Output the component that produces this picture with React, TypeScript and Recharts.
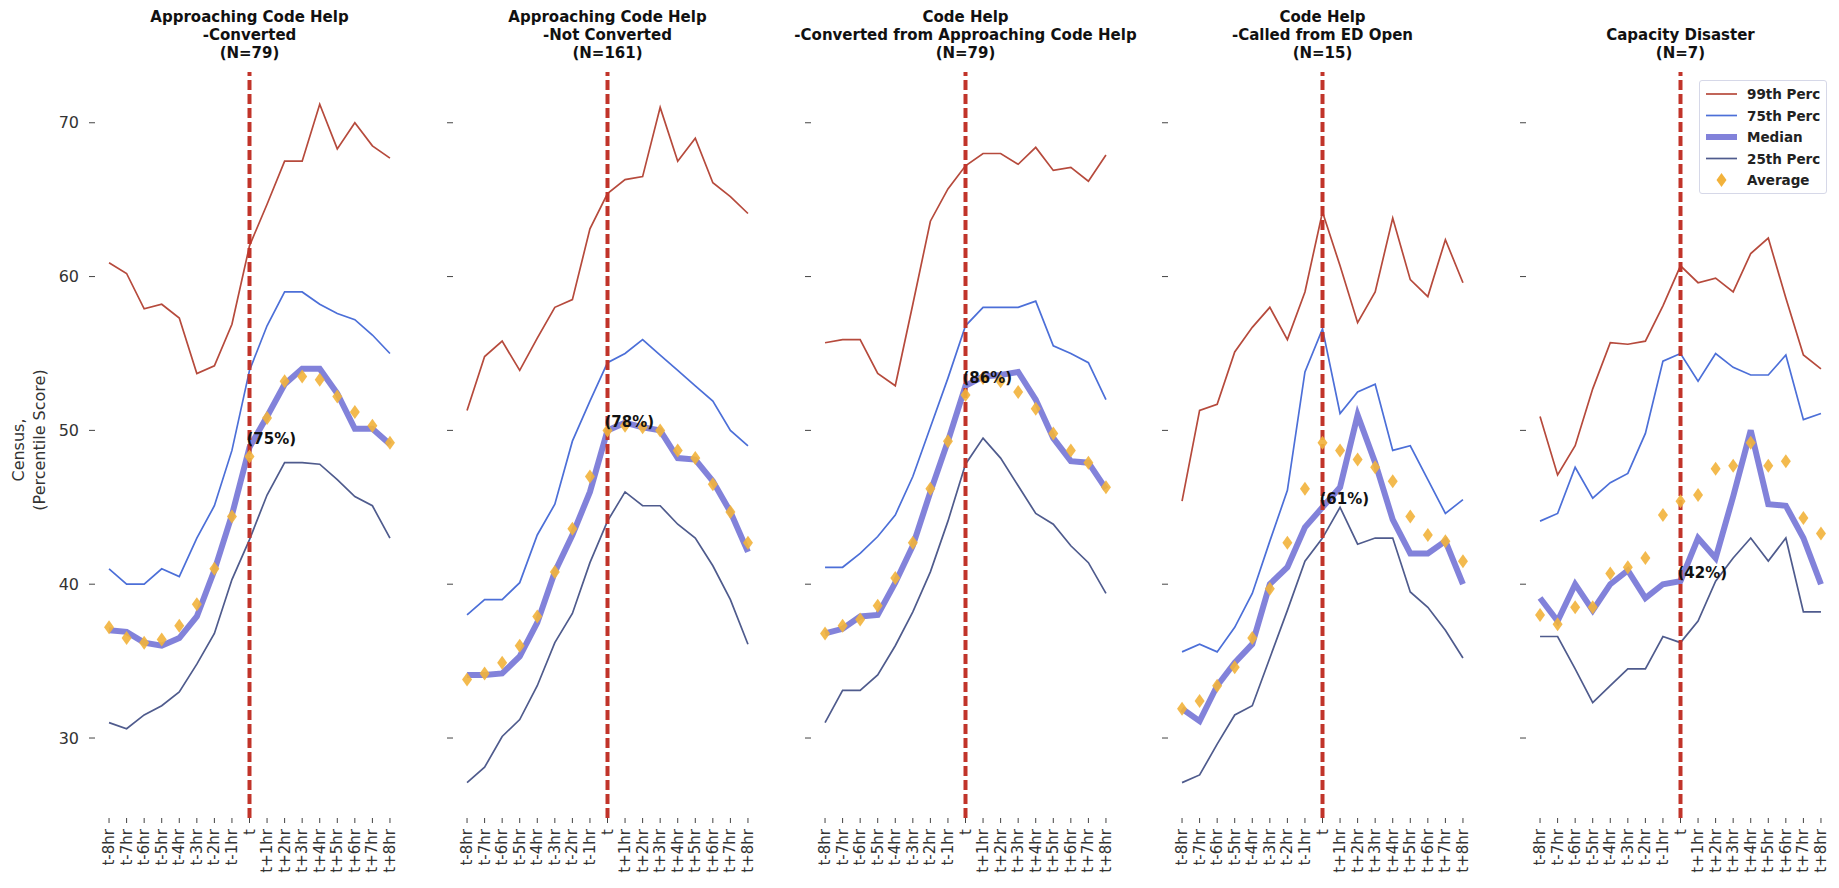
import React from 'react';
import { ComposedChart, Line, XAxis, YAxis, ReferenceLine } from 'recharts';

const HOURS = [
  't-8hr', 't-7hr', 't-6hr', 't-5hr', 't-4hr', 't-3hr', 't-2hr', 't-1hr', 't',
  't+1hr', 't+2hr', 't+3hr', 't+4hr', 't+5hr', 't+6hr', 't+7hr', 't+8hr',
];
const Y_TICKS = [30, 40, 50, 60, 70];

// Approaching Code Help - Converted
const p99Conv = [60.9, 60.2, 57.9, 58.2, 57.3, 53.7, 54.2, 56.9, 62.0, 64.7, 67.5, 67.5, 71.2, 68.3, 70.0, 68.5, 67.7];
const p75Conv = [41.0, 40.0, 40.0, 41.0, 40.5, 43.0, 45.1, 48.7, 53.9, 56.8, 59.0, 59.0, 58.2, 57.6, 57.2, 56.2, 55.0];
const medConv = [37.0, 36.9, 36.2, 36.0, 36.5, 37.9, 40.9, 44.5, 48.9, 50.9, 53.0, 54.0, 54.0, 52.4, 50.1, 50.1, 49.1];
const avgConv = [37.2, 36.5, 36.2, 36.4, 37.3, 38.7, 41.0, 44.4, 48.3, 50.8, 53.2, 53.5, 53.3, 52.2, 51.2, 50.3, 49.2];
const p25Conv = [31.0, 30.6, 31.5, 32.1, 33.0, 34.8, 36.8, 40.3, 42.9, 45.8, 47.9, 47.9, 47.8, 46.8, 45.7, 45.1, 43.0];

// Approaching Code Help - Not Converted
const p99NotConv = [51.3, 54.8, 55.8, 53.9, 56.0, 58.0, 58.5, 63.1, 65.4, 66.3, 66.5, 71.0, 67.5, 69.0, 66.1, 65.2, 64.1];
const p75NotConv = [38.0, 39.0, 39.0, 40.1, 43.2, 45.2, 49.3, 51.9, 54.4, 55.0, 55.9, 54.9, 53.9, 52.9, 51.9, 50.0, 49.0];
const medNotConv = [34.1, 34.1, 34.2, 35.3, 37.5, 40.8, 43.2, 46.0, 50.0, 50.5, 50.2, 50.0, 48.2, 48.1, 46.7, 44.7, 42.1];
const avgNotConv = [33.8, 34.2, 34.9, 36.0, 37.9, 40.8, 43.6, 47.0, 50.0, 50.3, 50.2, 50.0, 48.7, 48.2, 46.5, 44.7, 42.7];
const p25NotConv = [27.1, 28.1, 30.1, 31.2, 33.4, 36.2, 38.1, 41.4, 44.1, 46.0, 45.1, 45.1, 43.9, 43.0, 41.2, 39.0, 36.1];

// Code Help - Converted from Approaching Code Help
const p99Help = [55.7, 55.9, 55.9, 53.7, 52.9, 58.2, 63.6, 65.7, 67.2, 68.0, 68.0, 67.3, 68.4, 66.9, 67.1, 66.2, 67.9];
const p75Help = [41.1, 41.1, 42.0, 43.1, 44.5, 47.0, 50.2, 53.4, 56.8, 58.0, 58.0, 58.0, 58.4, 55.5, 55.0, 54.4, 52.0];
const medHelp = [36.8, 37.1, 37.9, 38.0, 40.1, 42.5, 46.0, 49.3, 52.9, 53.5, 53.6, 53.8, 52.0, 49.5, 48.0, 47.9, 46.2];
const avgHelp = [36.8, 37.3, 37.7, 38.6, 40.4, 42.7, 46.2, 49.3, 52.3, 53.4, 53.2, 52.5, 51.4, 49.8, 48.7, 47.9, 46.3];
const p25Help = [31.0, 33.1, 33.1, 34.1, 36.0, 38.2, 40.8, 44.1, 47.8, 49.5, 48.2, 46.4, 44.6, 43.9, 42.5, 41.4, 39.4];

// Code Help - Called from ED Open
const p99Ed = [45.4, 51.3, 51.7, 55.1, 56.7, 58.0, 55.9, 59.0, 64.2, 60.7, 57.0, 59.0, 63.8, 59.8, 58.7, 62.4, 59.6];
const p75Ed = [35.6, 36.1, 35.6, 37.2, 39.4, 42.8, 46.1, 53.8, 56.6, 51.1, 52.5, 53.0, 48.7, 49.0, 46.8, 44.6, 45.5];
const medEd = [31.9, 31.1, 33.4, 34.9, 36.1, 40.0, 41.1, 43.7, 45.0, 46.3, 51.0, 47.9, 44.2, 42.0, 42.0, 42.8, 40.0];
const avgEd = [31.9, 32.4, 33.4, 34.6, 36.5, 39.7, 42.7, 46.2, 49.2, 48.7, 48.1, 47.6, 46.7, 44.4, 43.2, 42.8, 41.5];
const p25Ed = [27.1, 27.6, 29.6, 31.5, 32.1, 35.2, 38.3, 41.5, 43.0, 45.0, 42.6, 43.0, 43.0, 39.5, 38.5, 37.0, 35.2];

// Capacity Disaster
const p99Cap = [50.9, 47.1, 49.0, 52.7, 55.7, 55.6, 55.8, 58.1, 60.7, 59.6, 59.9, 59.0, 61.5, 62.5, 58.6, 54.9, 54.0];
const p75Cap = [44.1, 44.6, 47.6, 45.6, 46.6, 47.2, 49.8, 54.5, 55.0, 53.2, 55.0, 54.1, 53.6, 53.6, 54.9, 50.7, 51.1];
const medCap = [39.1, 37.6, 40.0, 38.3, 40.0, 40.9, 39.1, 40.0, 40.2, 43.0, 41.7, 45.7, 50.0, 45.2, 45.1, 43.0, 40.0];
const avgCap = [38.0, 37.4, 38.5, 38.5, 40.7, 41.1, 41.7, 44.5, 45.4, 45.8, 47.5, 47.7, 49.2, 47.7, 48.0, 44.3, 43.3];
const p25Cap = [36.6, 36.6, 34.5, 32.3, 33.4, 34.5, 34.5, 36.6, 36.2, 37.6, 40.2, 41.7, 43.0, 41.5, 43.0, 38.2, 38.2];

const TITLES = [
  ['Approaching Code Help', '-Converted', '(N=79)'],
  ['Approaching Code Help', '-Not Converted', '(N=161)'],
  ['Code Help', '-Converted from Approaching Code Help', '(N=79)'],
  ['Code Help', '-Called from ED Open', '(N=15)'],
  ['Capacity Disaster', '(N=7)'],
];
const SHARES = ['(75%)', '(78%)', '(86%)', '(61%)', '(42%)'];

const PANELS = [
  { p99: p99Conv, p75: p75Conv, med: medConv, avg: avgConv, p25: p25Conv },
  { p99: p99NotConv, p75: p75NotConv, med: medNotConv, avg: avgNotConv, p25: p25NotConv },
  { p99: p99Help, p75: p75Help, med: medHelp, avg: avgHelp, p25: p25Help },
  { p99: p99Ed, p75: p75Ed, med: medEd, avg: avgEd, p25: p25Ed },
  { p99: p99Cap, p75: p75Cap, med: medCap, avg: avgCap, p25: p25Cap },
];

const FONT = '"DejaVu Sans", sans-serif';
const C99 = '#b64a3c';
const C75 = '#4c6fd8';
const CMED = '#6c6cd4';
const C25 = '#4f5b8d';
const CAVG = '#f2b23b';
const CDASH = '#c1342a';

const STEP = 357.75; // distance between panels
const Y_W = 95; // room left of each plot
const PLOT_W = 309;

const XTick = (props: any) => {
  const { x, y, payload } = props;
  return (
    <text
      transform={`translate(${x},${y}) rotate(-90)`}
      textAnchor="end"
      dominantBaseline="central"
      fontSize={15}
      fontFamily={FONT}
      fill="#333"
    >
      {HOURS[payload.value]}
    </text>
  );
};

const EmptyTick = () => <g />;

const Diamond = (props: any) => {
  const { cx, cy, index } = props;
  if (cx == null || cy == null) return <g key={`a-${index}`} />;
  return (
    <path
      key={`a-${index}`}
      d={`M${cx},${cy - 7}L${cx + 5},${cy}L${cx},${cy + 7}L${cx - 5},${cy}Z`}
      fill={CAVG}
      fillOpacity={0.9}
    />
  );
};

const Panel = ({ idx }: { idx: number }) => {
  const p = PANELS[idx];
  const data = HOURS.map((h, i) => ({
    x: i,
    p99: p.p99[i],
    p75: p.p75[i],
    med: p.med[i],
    avg: p.avg[i],
    p25: p.p25[i],
  }));

  // percentage note sits at the median value of hour t
  const shareDot = (props: any) => {
    const { cx, cy, index } = props;
    if (index !== 8) return <g key={`s-${index}`} />;
    return (
      <text
        key={`s-${index}`}
        x={cx - 3}
        y={cy - 3}
        fontSize={15}
        fontWeight="bold"
        fontFamily={FONT}
        fill="#111"
      >
        {SHARES[idx]}
      </text>
    );
  };

  return (
    <div style={{ position: 'absolute', left: Math.round(idx * STEP), top: 0 }}>
      <ComposedChart
        width={Y_W + PLOT_W + 5}
        height={888}
        data={data}
        margin={{ top: 72, right: 5, bottom: 0, left: 0 }}
      >
        <XAxis
          type="number"
          dataKey="x"
          domain={[-0.8, 16.8]}
          ticks={HOURS.map((_, i) => i)}
          interval={0}
          allowDataOverflow
          axisLine={false}
          tickSize={5}
          tickMargin={6}
          tickLine={{ stroke: '#444' }}
          height={70}
          tick={<XTick />}
        />
        <YAxis
          type="number"
          domain={[24.8, 73.3]}
          ticks={Y_TICKS}
          allowDataOverflow
          width={Y_W}
          axisLine={false}
          tickSize={6}
          tickMargin={10}
          tickLine={{ stroke: '#444' }}
          tick={idx === 0 ? { fill: '#333', fontSize: 16, fontFamily: FONT } : <EmptyTick />}
        />
        <Line dataKey="p99" stroke={C99} strokeWidth={1.7} dot={false} isAnimationActive={false} />
        <Line dataKey="p75" stroke={C75} strokeWidth={1.7} dot={false} isAnimationActive={false} />
        <Line dataKey="med" stroke={CMED} strokeWidth={6} strokeOpacity={0.85} dot={false} isAnimationActive={false} />
        <Line dataKey="p25" stroke={C25} strokeWidth={1.7} dot={false} isAnimationActive={false} />
        <ReferenceLine x={8} stroke={CDASH} strokeWidth={4} strokeDasharray="10 4" />
        <Line dataKey="avg" stroke="none" dot={Diamond} activeDot={false} isAnimationActive={false} />
        <Line dataKey="med" stroke="none" dot={shareDot} activeDot={false} isAnimationActive={false} />
      </ComposedChart>
      <div
        style={{
          position: 'absolute',
          left: Y_W + PLOT_W / 2 - 230,
          width: 460,
          top: 0,
          height: 62,
          display: 'flex',
          flexDirection: 'column',
          justifyContent: 'flex-end',
          alignItems: 'center',
          fontFamily: FONT,
          fontWeight: 'bold',
          fontSize: 15,
          lineHeight: '18px',
          color: '#111',
          whiteSpace: 'nowrap',
        }}
      >
        {TITLES[idx].map((t) => (
          <div key={t}>{t}</div>
        ))}
      </div>
    </div>
  );
};

const LEGEND = [
  { name: '99th Perc', color: C99, width: 1.7 },
  { name: '75th Perc', color: C75, width: 1.7 },
  { name: 'Median', color: CMED, width: 6 },
  { name: '25th Perc', color: C25, width: 1.7 },
  { name: 'Average', color: CAVG, width: 0 },
];

const Legend = () => (
  <div
    style={{
      position: 'absolute',
      left: 1699,
      top: 80,
      width: 126,
      height: 112,
      border: '1px solid #d6d8e8',
      borderRadius: 3,
      background: 'rgba(255,255,255,0.85)',
    }}
  >
    <svg width={126} height={112}>
      {LEGEND.map((e, i) => {
        const y = 13 + i * 21.5;
        return (
          <g key={e.name}>
            {e.width > 0 ? (
              <line x1={6} x2={37} y1={y} y2={y} stroke={e.color} strokeWidth={e.width} strokeOpacity={e.width > 2 ? 0.85 : 1} />
            ) : (
              <path d={`M21.5,${y - 7}L26.5,${y}L21.5,${y + 7}L16.5,${y}Z`} fill={CAVG} />
            )}
            <text x={47} y={y} dominantBaseline="central" fontSize={13.5} fontWeight="bold" fontFamily={FONT} fill="#222">
              {e.name}
            </text>
          </g>
        );
      })}
    </svg>
  </div>
);

export default function App() {
  return (
    <div
      style={{
        position: 'absolute',
        left: 0,
        top: 0,
        width: 1839,
        height: 888,
        overflow: 'hidden',
        background: '#fff',
        fontFamily: FONT,
      }}
    >
      <svg width={70} height={888} style={{ position: 'absolute', left: 0, top: 0 }}>
        <text x={18} y={450} transform="rotate(-90 18 450)" textAnchor="middle" dominantBaseline="central" fontSize={16} fontFamily={FONT} fill="#333">
          Census,
        </text>
        <text x={39} y={440} transform="rotate(-90 39 440)" textAnchor="middle" dominantBaseline="central" fontSize={16} fontFamily={FONT} fill="#333">
          (Percentile Score)
        </text>
      </svg>
      {PANELS.map((_, i) => (
        <Panel key={i} idx={i} />
      ))}
      <Legend />
    </div>
  );
}
